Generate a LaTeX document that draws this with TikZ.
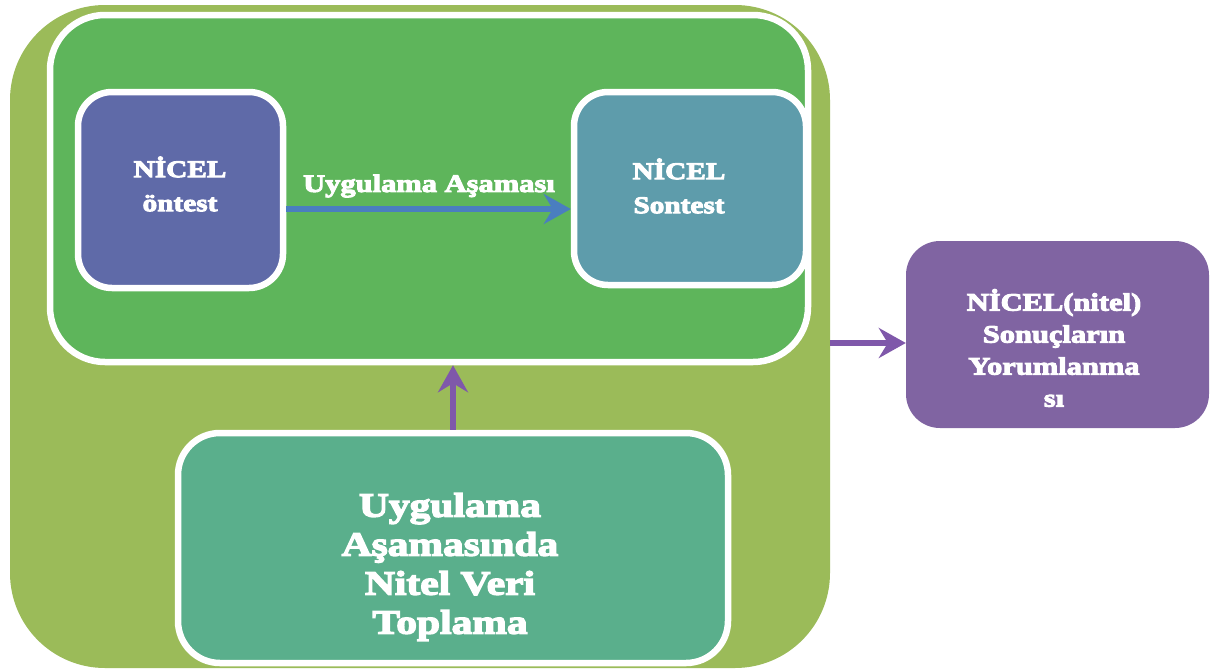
\documentclass[tikz,border=0pt]{standalone}
\usepackage{fontspec}
\usetikzlibrary{arrows.meta}
\newfontfamily\fatface{Liberation Serif Bold}[FakeStretch=1.22,FakeBold=4]
\definecolor{olivebg}{HTML}{9BBB59}
\definecolor{stagegreen}{HTML}{5EB55B}
\definecolor{pretestblue}{HTML}{5F6AA8}
\definecolor{posttestteal}{HTML}{5E9CAB}
\definecolor{collectgreen}{HTML}{5AAF8C}
\definecolor{resultpurple}{HTML}{8064A2}
\definecolor{flowblue}{HTML}{4A7EC0}
\definecolor{flowpurple}{HTML}{7F58AA}
\tikzset{
  box/.style={rectangle, draw=white, line width=6.5pt, inner sep=0pt},
  boxtext/.style={text=white, align=center, font=\fatface},
  flow/.style={line width=6.5pt, -{Stealth[length=27pt,width=30pt,inset=9pt]}},
}
\begin{document}
\begin{tikzpicture}[x=1pt,y=-1pt]
\useasboundingbox (0,0) rectangle (1211,670);
\clip (0,0) rectangle (1211,670);
% outer background panel
\fill[olivebg, rounded corners=95pt] (10,5) rectangle (830,668);
\coordinate (panelE) at (830,343);
% implementation stage
\node[box, fill=stagegreen, rounded corners=55pt, minimum width=758pt, minimum height=347pt] (stage) at (429,188.5) {};
\node[box, fill=pretestblue, rounded corners=34pt, minimum width=205pt, minimum height=196pt] (pre) at (180.5,190) {};
\node[box, fill=posttestteal, rounded corners=34pt, minimum width=232pt, minimum height=193pt] (post) at (690,188.5) {};
\node[boxtext, font=\fatface\fontsize{24}{34}\selectfont] (pretxt) at (180,184) {N\.ICEL\\öntest};
\node[boxtext, font=\fatface\fontsize{24}{34}\selectfont] (posttxt) at (679,186) {N\.ICEL\\Sontest};
\draw[flow, flowblue] (pre.east |- 0,209) -- (post.west |- 0,209);
\node[boxtext, font=\fatface\fontsize{25}{30}\selectfont] (stagelbl) at (429,186) {Uygulama Aşaması};
% qualitative data collection
\node[box, fill=collectgreen, rounded corners=42pt, minimum width=550pt, minimum height=230pt] (collect) at (453,548) {};
\node[boxtext, font=\fatface\fontsize{34}{39}\selectfont] (collecttxt) at (450,567) {Uygulama\\Aşamasında\\Nitel Veri\\Toplama};
\draw[flow, flowpurple] (collect.north) -- (collect.north |- stage.south);
% interpretation of results
\node[rectangle, fill=resultpurple, rounded corners=34pt, minimum width=303pt, minimum height=187pt] (result) at (1057.5,334.5) {};
\node[boxtext, font=\fatface\fontsize{25}{32}\selectfont] (resulttxt) at (1054,348) {N\.ICEL(nitel)\\Sonuçların\\Yorumlanma\\sı};
\draw[flow, flowpurple] (panelE) -- (result.west |- panelE);
\end{tikzpicture}
\end{document}
